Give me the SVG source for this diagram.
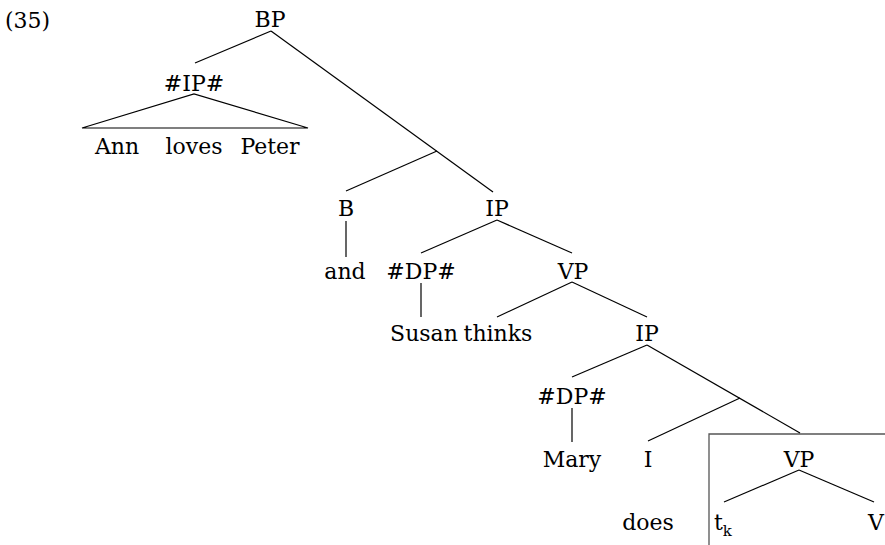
<svg xmlns="http://www.w3.org/2000/svg" width="885" height="545" viewBox="0 0 885 545">
<style>
text{font-family:"DejaVu Serif","Liberation Serif",serif;font-size:22px;fill:#000;text-anchor:middle}
.st{text-anchor:start}
.sub{font-size:15px}
#connectors line,#connectors path{stroke:#000;stroke-width:1.2;fill:none}
#box path{stroke:#555;stroke-width:1.3;fill:none}
</style>
<rect width="885" height="545" fill="#fff"/>
<g id="label"><text class="st" x="5" y="28">(35)</text></g>
<g id="bp"><text x="270" y="27">BP</text></g>
<g id="ip-hash"><text x="194" y="91">#IP#</text></g>
<g id="ann-loves-peter"><text x="117" y="154">Ann</text><text x="194" y="154">loves</text><text x="270" y="154">Peter</text></g>
<g id="b"><text x="346" y="216">B</text></g>
<g id="ip1"><text x="497" y="216">IP</text></g>
<g id="and"><text x="345" y="279">and</text></g>
<g id="dp1"><text x="421" y="279">#DP#</text></g>
<g id="vp1"><text x="573" y="279">VP</text></g>
<g id="susan-thinks"><text x="424" y="341">Susan</text><text x="498" y="341">thinks</text></g>
<g id="ip2"><text x="647" y="341">IP</text></g>
<g id="dp2"><text x="572" y="404">#DP#</text></g>
<g id="mary"><text x="572" y="467">Mary</text></g>
<g id="i"><text x="648" y="467">I</text></g>
<g id="vp2"><text x="799" y="467">VP</text></g>
<g id="does"><text x="648" y="530">does</text></g>
<g id="tk"><text class="st" x="714" y="530">t<tspan class="sub" dy="6">k</tspan></text></g>
<g id="v"><text x="876" y="530">V</text></g>
<g id="box"><path d="M709,545 V434 H885"/></g>
<g id="connectors">
<line x1="271" y1="31" x2="195" y2="63"/>
<line x1="271" y1="31" x2="493" y2="192"/>
<path d="M82,128 L194,94 L308,128 Z"/>
<line x1="346" y1="191" x2="437" y2="151"/>
<line x1="346" y1="221" x2="346" y2="257"/>
<line x1="497" y1="220" x2="421" y2="253"/>
<line x1="497" y1="220" x2="572" y2="253"/>
<line x1="421" y1="283" x2="421" y2="317"/>
<line x1="572" y1="282" x2="497" y2="317"/>
<line x1="572" y1="282" x2="647" y2="317"/>
<line x1="647" y1="345" x2="572" y2="377"/>
<line x1="647" y1="345" x2="800" y2="433"/>
<line x1="572" y1="408" x2="572" y2="442"/>
<line x1="648" y1="441" x2="740" y2="398"/>
<line x1="799" y1="470" x2="724" y2="502"/>
<line x1="799" y1="470" x2="874" y2="502"/>
</g>
</svg>
